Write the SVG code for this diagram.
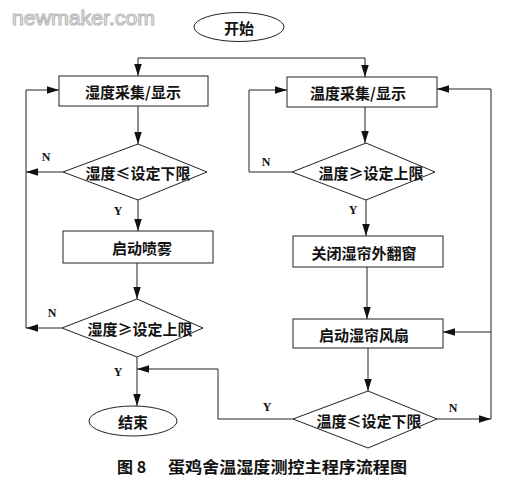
<svg xmlns="http://www.w3.org/2000/svg" width="514" height="484" viewBox="0 0 514 484">
<defs>
<marker id="ah" markerWidth="13" markerHeight="8" refX="12" refY="3.75" orient="auto" markerUnits="userSpaceOnUse">
<path d="M0,0 L12,3.75 L0,7.5 z" fill="#111"/>
</marker>
<style>
.shape{fill:#fff;stroke:#222;stroke-width:1}
.ln{fill:none;stroke:#222;stroke-width:1}
.ar{fill:none;stroke:#222;stroke-width:1;marker-end:url(#ah)}
.t{font-family:"Noto Sans CJK SC","Liberation Serif",serif;font-size:15px;font-weight:bold;fill:#111;text-anchor:middle;dominant-baseline:central}
.yn{font-family:"Liberation Serif",serif;font-size:12px;font-weight:bold;fill:#111;text-anchor:middle;dominant-baseline:central}
.wm{font-family:"Liberation Sans",Arial,sans-serif;font-size:21px;fill:#fff;stroke:#bbb;stroke-width:1.2}
.title{font-family:"Noto Sans CJK SC","Liberation Serif",serif;font-size:16px;font-weight:bold;fill:#111;dominant-baseline:central}
</style>
</defs>
<rect width="514" height="484" fill="#fff"/>
<text class="wm" x="12" y="25" textLength="143" lengthAdjust="spacingAndGlyphs">newmaker.com</text>

<g id="connectors">
<polyline class="ln" points="138,58 365,58"/>
<line class="ar" x1="138" y1="58" x2="138" y2="76"/>
<line class="ar" x1="365" y1="58" x2="365" y2="77"/>
<line class="ar" x1="138" y1="106" x2="138" y2="144"/>
<polyline class="ar" points="63,172 26,172"/>
<polyline class="ar" points="26,328 26,90 59,90"/>
<line class="ar" x1="138" y1="200" x2="138" y2="231"/>
<line class="ar" x1="137" y1="263" x2="137" y2="299"/>
<polyline class="ar" points="62,328 26,328"/>
<line class="ar" x1="137" y1="357" x2="137" y2="406"/>
<line class="ar" x1="365" y1="107" x2="365" y2="143"/>
<polyline class="ar" points="292,172 249,172 249,90 287,90"/>
<line class="ar" x1="366" y1="200" x2="366" y2="236"/>
<line class="ar" x1="367" y1="267" x2="367" y2="319"/>
<line class="ar" x1="368" y1="348" x2="368" y2="391"/>
<polyline class="ar" points="437,419 491,419"/>
<polyline class="ar" points="491,419 491,89 437,89"/>
<line class="ar" x1="491" y1="332" x2="443" y2="332"/>
<polyline class="ar" points="293,419 218,419 218,369 137,369"/>
<text class="yn" x="46" y="157">N</text>
<text class="yn" x="52" y="313">N</text>
<text class="yn" x="118" y="211">Y</text>
<text class="yn" x="118" y="372">Y</text>
<text class="yn" x="266" y="162">N</text>
<text class="yn" x="353" y="210">Y</text>
<text class="yn" x="453" y="408">N</text>
<text class="yn" x="267" y="407">Y</text>
</g>

<g id="start">
<ellipse class="shape" cx="239" cy="27" rx="45" ry="14.5"/>
<text class="t" x="239" y="27">开始</text>
</g>
<g id="hum-collect">
<rect class="shape" x="59" y="76" width="149" height="30"/>
<text class="t" x="133" y="91">湿度采集/显示</text>
</g>
<g id="hum-low">
<polygon class="shape" points="138,144 207,172 138,200 63,172"/>
<text class="t" x="138" y="172">湿度≤设定下限</text>
</g>
<g id="spray">
<rect class="shape" x="63" y="231" width="150" height="32"/>
<text class="t" x="142" y="247">启动喷雾</text>
</g>
<g id="hum-high">
<polygon class="shape" points="137,299 203,328 137,357 62,328"/>
<text class="t" x="140" y="328">湿度≥设定上限</text>
</g>
<g id="end">
<ellipse class="shape" cx="133" cy="421" rx="44" ry="15"/>
<text class="t" x="133" y="421">结束</text>
</g>
<g id="temp-collect">
<rect class="shape" x="287" y="77" width="150" height="30"/>
<text class="t" x="358" y="92">温度采集/显示</text>
</g>
<g id="temp-high">
<polygon class="shape" points="366,143 435,172 366,200 292,172"/>
<text class="t" x="371" y="172">温度≥设定上限</text>
</g>
<g id="close-window">
<rect class="shape" x="293" y="236" width="150" height="31"/>
<text class="t" x="364" y="252">关闭湿帘外翻窗</text>
</g>
<g id="fan">
<rect class="shape" x="293" y="319" width="150" height="29"/>
<text class="t" x="364" y="334">启动湿帘风扇</text>
</g>
<g id="temp-low">
<polygon class="shape" points="368,391 437,419 368,448 293,419"/>
<text class="t" x="369" y="420">温度≤设定下限</text>
</g>
<text class="title" x="117" y="466">图 8</text>
<text class="title" x="168" y="466" textLength="239" lengthAdjust="spacingAndGlyphs">蛋鸡舍温湿度测控主程序流程图</text>
</svg>
